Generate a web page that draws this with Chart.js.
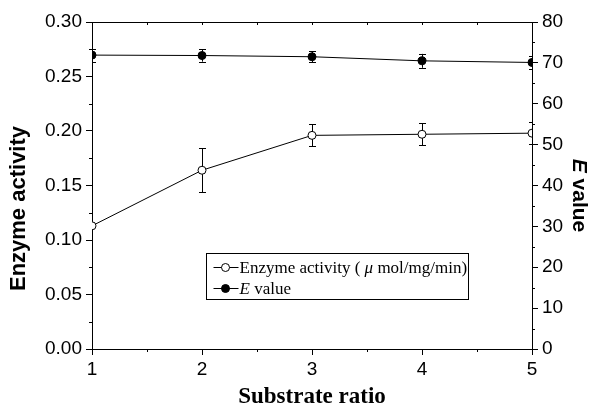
<!DOCTYPE html>
<html><head><meta charset="utf-8">
<script src="https://cdn.jsdelivr.net/npm/chart.js@4.4.1/dist/chart.umd.min.js"></script>
<style>html,body{margin:0;padding:0;background:#fff;}#wrap{width:594px;height:406px;}</style>
</head><body><div id="wrap"><canvas id="c" width="594" height="406"></canvas></div>
<script>
// ---- data ----
const substrateRatio = [1, 2, 3, 4, 5];
const enzymeActivity = [0.113, 0.164, 0.196, 0.197, 0.198];
const enzymeActivityErr = [0.0, 0.020, 0.010, 0.010, 0.010];
const eValue = [71.9, 71.8, 71.5, 70.5, 70.1];
const eValueErr = [1.6, 1.5, 1.4, 1.7, 1.5];
const xTickValues = [1, 2, 3, 4, 5];
const xTickLabels = ['1', '2', '3', '4', '5'];
const leftTickValues = [0, 0.05, 0.10, 0.15, 0.20, 0.25, 0.30];
const leftTickLabels = ['0.00', '0.05', '0.10', '0.15', '0.20', '0.25', '0.30'];
const rightTickValues = [0, 10, 20, 30, 40, 50, 60, 70, 80];
const rightTickLabels = ['0', '10', '20', '30', '40', '50', '60', '70', '80'];
const xMinorValues = [1.5, 2.5, 3.5, 4.5];
const xTopTickValues = [1.5, 2, 2.5, 3, 3.5, 4, 4.5];
const leftMinorValues = [0.025, 0.075, 0.125, 0.175, 0.225, 0.275];
const rightMinorValues = [5, 15, 25, 35, 45, 55, 65, 75];

const SANS = "'Liberation Sans', Arial, sans-serif";
const SERIF = "'Liberation Serif', 'Times New Roman', serif";

const decor = {
  id: 'decor',
  beforeDatasetsDraw(chart) {
    const ctx = chart.ctx, ca = chart.chartArea;
    const xs = chart.scales.x;
    ctx.save();
    ctx.beginPath();
    ctx.rect(ca.left, ca.top - 1, ca.right - ca.left, ca.bottom - ca.top + 2);
    ctx.clip();
    ctx.strokeStyle = '#000';
    ctx.lineWidth = 1;
    const bars = (vals, errs, scale) => {
      vals.forEach((v, i) => {
        if (!errs[i]) return;
        const x = Math.round(xs.getPixelForValue(substrateRatio[i])) + 0.5;
        const y1 = scale.getPixelForValue(v + errs[i]);
        const y2 = scale.getPixelForValue(v - errs[i]);
        ctx.beginPath();
        ctx.moveTo(x, y1); ctx.lineTo(x, y2);
        ctx.moveTo(x - 3.5, Math.round(y1) + 0.5); ctx.lineTo(x + 3.5, Math.round(y1) + 0.5);
        ctx.moveTo(x - 3.5, Math.round(y2) + 0.5); ctx.lineTo(x + 3.5, Math.round(y2) + 0.5);
        ctx.stroke();
      });
    };
    bars(enzymeActivity, enzymeActivityErr, chart.scales.y);
    bars(eValue, eValueErr, chart.scales.y1);
    ctx.restore();
  },
  afterDraw(chart) {
    const ctx = chart.ctx, ca = chart.chartArea;
    const xs = chart.scales.x, yl = chart.scales.y, yr = chart.scales.y1;
    ctx.save();
    ctx.strokeStyle = '#000';
    ctx.lineWidth = 1;
    // top border
    ctx.beginPath();
    ctx.moveTo(ca.left, Math.round(ca.top) + 0.5);
    ctx.lineTo(ca.right, Math.round(ca.top) + 0.5);
    // minor ticks
    xMinorValues.forEach(v => {
      const x = Math.round(xs.getPixelForValue(v)) + 0.5;
      ctx.moveTo(x, ca.bottom); ctx.lineTo(x, ca.bottom + 3);
    });
    xTopTickValues.forEach(v => {
      const x = Math.round(xs.getPixelForValue(v)) + 0.5;
      ctx.moveTo(x, ca.top); ctx.lineTo(x, ca.top + 3);
    });
    leftMinorValues.forEach(v => {
      const y = Math.round(yl.getPixelForValue(v)) + 0.5;
      ctx.moveTo(ca.left, y); ctx.lineTo(ca.left - 3, y);
    });
    rightMinorValues.forEach(v => {
      const y = Math.round(yr.getPixelForValue(v)) + 0.5;
      ctx.moveTo(ca.right, y); ctx.lineTo(ca.right + 3, y);
    });
    ctx.stroke();

    // axis titles (left & right)
    ctx.fillStyle = '#000';
    ctx.textBaseline = 'alphabetic';
    const cy = (ca.top + ca.bottom) / 2;
    ctx.save();
    ctx.translate(ca.left - 67, cy + 23);
    ctx.rotate(-Math.PI / 2);
    ctx.textAlign = 'center';
    ctx.font = 'bold 22px ' + SANS;
    ctx.fillText('Enzyme activity', 0, 0);
    ctx.restore();

    ctx.save();
    ctx.translate(ca.right + 41, cy + 10);
    ctx.rotate(Math.PI / 2);
    ctx.textAlign = 'left';
    const fI = 'italic bold 21px ' + SANS, fB = 'bold 21px ' + SANS;
    ctx.font = fI; const wE = ctx.measureText('E').width;
    ctx.font = fB; const wV = ctx.measureText(' value').width;
    const sx = -(wE + wV) / 2;
    ctx.font = fI; ctx.fillText('E', sx, 0);
    ctx.font = fB; ctx.fillText(' value', sx + wE, 0);
    ctx.restore();

    // legend
    const L = Math.round(ca.left + 114) + 0.5, T = Math.round(ca.top + 231) + 0.5, W = 262, H = 46;
    ctx.fillStyle = '#fff';
    ctx.fillRect(L, T, W, H);
    ctx.strokeRect(L, T, W, H);
    const rows = [
      { y: T + 14, fill: '#fff', parts: [['Enzyme activity ( ', false], ['\u03bc', true], [' mol/mg/min)', false]] },
      { y: T + 35, fill: '#000', parts: [['E', true], [' value', false]] }
    ];
    rows.forEach(r => {
      ctx.beginPath();
      ctx.moveTo(L + 7, r.y); ctx.lineTo(L + 32, r.y);
      ctx.stroke();
      ctx.beginPath();
      ctx.arc(L + 19, r.y, 4, 0, Math.PI * 2);
      ctx.fillStyle = r.fill; ctx.fill(); ctx.stroke();
      ctx.fillStyle = '#000';
      ctx.textAlign = 'left';
      ctx.textBaseline = 'middle';
      let tx = L + 33;
      r.parts.forEach(([t, it]) => {
        ctx.font = (it ? 'italic ' : '') + '17px ' + SERIF;
        ctx.fillText(t, tx, r.y + 1);
        tx += ctx.measureText(t).width;
      });
    });
    ctx.restore();
  }
};

const tickFont = { family: SANS, size: 19 };
const mkTicks = (vals) => (s) => { s.ticks = vals.map(v => ({ value: v })); };

new Chart(document.getElementById('c'), {
  type: 'line',
  data: {
    datasets: [
      {
        label: 'Enzyme activity',
        data: substrateRatio.map((x, i) => ({ x, y: enzymeActivity[i] })),
        yAxisID: 'y',
        borderColor: '#000', borderWidth: 1, clip: 0,
        pointRadius: 4, pointBackgroundColor: '#fff', pointBorderColor: '#000', pointBorderWidth: 1,
        tension: 0
      },
      {
        label: 'E value',
        data: substrateRatio.map((x, i) => ({ x, y: eValue[i] })),
        yAxisID: 'y1',
        borderColor: '#000', borderWidth: 1, clip: 0,
        pointRadius: 4, pointBackgroundColor: '#000', pointBorderColor: '#000', pointBorderWidth: 1,
        tension: 0
      }
    ]
  },
  options: {
    responsive: false,
    animation: false,
    devicePixelRatio: 1,
    layout: { padding: { top: 22, left: 0, right: 0, bottom: 0 } },
    plugins: { legend: { display: false }, tooltip: { enabled: false } },
    scales: {
      x: {
        type: 'linear', min: 1, max: 5,
        afterBuildTicks: mkTicks(xTickValues),
        afterFit: s => { s.height = 57; },
        ticks: { font: tickFont, color: '#000', padding: 3, maxRotation: 0,
          callback: v => xTickLabels[xTickValues.indexOf(v)] },
        grid: { drawOnChartArea: false, tickLength: 6, color: '#000', tickWidth: 1 },
        border: { color: '#000', width: 1 },
        title: { display: true, text: 'Substrate ratio', color: '#000', padding: 0,
          font: { family: SERIF, size: 23, weight: 'bold', lineHeight: 0.8 } }
      },
      y: {
        position: 'left', min: 0, max: 0.3,
        afterBuildTicks: mkTicks(leftTickValues),
        afterFit: s => { s.width = 92; },
        ticks: { font: tickFont, color: '#000', padding: 4,
          callback: v => leftTickLabels[leftTickValues.findIndex(t => Math.abs(t - v) < 1e-9)] },
        grid: { drawOnChartArea: false, tickLength: 6, color: '#000', tickWidth: 1 },
        border: { color: '#000', width: 1 }
      },
      y1: {
        position: 'right', min: 0, max: 80,
        afterBuildTicks: mkTicks(rightTickValues),
        afterFit: s => { s.width = 62; },
        ticks: { font: tickFont, color: '#000', padding: 4,
          callback: v => rightTickLabels[rightTickValues.indexOf(v)] },
        grid: { drawOnChartArea: false, tickLength: 6, color: '#000', tickWidth: 1 },
        border: { color: '#000', width: 1 }
      }
    }
  },
  plugins: [decor]
});
</script></body></html>
